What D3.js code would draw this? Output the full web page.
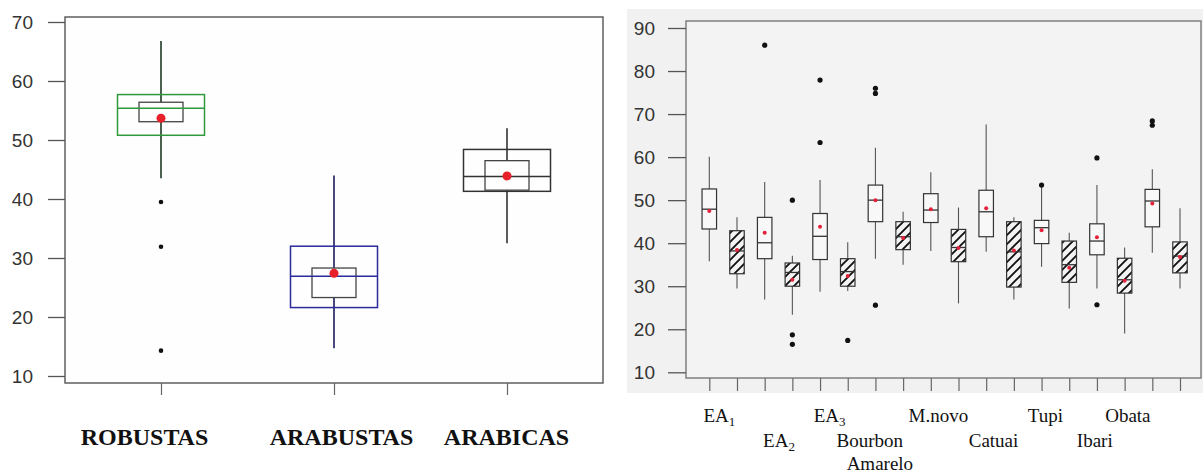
<!DOCTYPE html>
<html>
<head>
<meta charset="utf-8">
<script src="https://cdn.jsdelivr.net/npm/d3@7"></script>
<style>
  body { margin: 0; background: #fff; }
  text { font-family: "Liberation Sans", Arial, sans-serif; }
  .serif { font-family: "Liberation Serif", "Times New Roman", serif; }
</style>
</head>
<body>
<svg id="chart" width="1203" height="476"></svg>
<script>
// ---- left panel : species groups ----
const groups = ["ROBUSTAS", "ARABUSTAS", "ARABICAS"];
const gQ1 = [50.8, 21.6, 41.3];
const gMedian = [55.4, 26.9, 43.8];
const gQ3 = [57.7, 32.0, 48.4];
const gCiLow = [53.1, 23.3, 41.5];
const gCiHigh = [56.4, 28.3, 46.5];
const gMean = [53.7, 27.4, 43.9];
const gWhiskLow = [43.5, 14.7, 32.5];
const gWhiskHigh = [66.8, 44.0, 52.0];
const gOutliers = [[39.5, 31.9, 14.3], [], []];
const leftTicks = [10, 20, 30, 40, 50, 60, 70];

// ---- right panel : genotypes, two boxes each (plain / hatched) ----
const genotypes = ["EA1", "EA2", "EA3", "Bourbon Amarelo", "M.novo", "Catuai", "Tupi", "Ibari", "Obata"];
const treatments = ["plain", "hatched"];
const bQ3 = [52.6, 42.9, 46.0, 35.4, 46.9, 36.4, 53.5, 45.0, 51.5, 43.2, 52.3, 45.0, 45.3, 40.5, 44.5, 36.5, 52.5, 40.3];
const bQ1 = [43.3, 32.9, 36.4, 30.0, 36.2, 30.0, 45.0, 38.5, 44.8, 35.7, 41.5, 29.8, 39.9, 30.9, 37.3, 28.4, 43.8, 33.1];
const bMedian = [47.9, 38.2, 40.1, 33.2, 41.6, 33.4, 50.0, 41.5, 47.7, 39.0, 47.3, 38.0, 43.6, 35.0, 40.5, 31.5, 49.8, 37.0];
const bMean = [47.5, 38.4, 42.4, 31.5, 43.8, 32.4, 50.0, 41.2, 47.9, 38.9, 48.1, 38.3, 43.0, 34.3, 41.4, 31.3, 49.2, 36.8];
const bWhiskHigh = [60.1, 46.0, 54.2, 37.1, 54.7, 40.2, 62.2, 47.3, 56.5, 48.3, 67.6, 46.0, 53.1, 42.4, 53.5, 39.0, 57.2, 48.1];
const bWhiskLow = [35.8, 29.5, 26.9, 23.4, 28.7, 28.9, 36.4, 35.0, 38.2, 26.0, 38.0, 26.9, 34.5, 24.8, 29.5, 19.0, 37.8, 29.5];
const bOutliers = [[], [], [86.0], [50.0, 18.7, 16.5], [77.9, 63.4], [17.4], [76.0, 74.8, 25.6], [], [], [], [], [],
  [53.5], [], [59.8, 25.7], [], [68.4, 67.4], []];
const rightTicks = [10, 20, 30, 40, 50, 60, 70, 80, 90];

const svg = d3.select("#chart");

// ================= LEFT PANEL =================
const L = { left: 65, right: 603, top: 17, bottom: 383 };
const yL = d3.scaleLinear().domain([10, 70]).range([376, 22]);
const xL = d3.scalePoint().domain(groups).range([161, 507]);
const outerColor = ["#2f9a3c", "#2b2b9c", "#333"];
const whiskColor = ["#1f3a25", "#1c1c5e", "#333"];
const labelShift = [-16.5, 7.5, -0.5];

let left = svg.append("g");
left.append("rect")
  .attr("x", L.left).attr("y", L.top)
  .attr("width", L.right - L.left).attr("height", L.bottom - L.top)
  .attr("fill", "#fefefe").attr("stroke", "#555").attr("stroke-width", 1.4);

let ly = left.append("g")
  .attr("transform", "translate(" + L.left + ",0)")
  .call(d3.axisLeft(yL).tickValues(leftTicks).tickSize(17).tickPadding(15));
ly.select(".domain").remove();
ly.selectAll("line").attr("stroke", "#555").attr("stroke-width", 1.3);
ly.selectAll("text").attr("font-size", 19).attr("fill", "#333");

let lx = left.append("g")
  .attr("transform", "translate(0," + L.bottom + ")")
  .call(d3.axisBottom(xL).tickSize(12).tickFormat(""));
lx.select(".domain").remove();
lx.selectAll("line").attr("stroke", "#666").attr("stroke-width", 1.2);

groups.forEach(function (g, i) {
  let cx = xL(g);
  let gg = left.append("g");
  // whiskers
  gg.append("line").attr("x1", cx).attr("x2", cx)
    .attr("y1", yL(gWhiskHigh[i])).attr("y2", yL(gCiHigh[i]))
    .attr("stroke", whiskColor[i]).attr("stroke-width", 1.6);
  gg.append("line").attr("x1", cx).attr("x2", cx)
    .attr("y1", yL(gCiLow[i])).attr("y2", yL(gWhiskLow[i]))
    .attr("stroke", whiskColor[i]).attr("stroke-width", 1.6);
  // outer box (quartiles)
  gg.append("rect")
    .attr("x", cx - 43.5).attr("width", 87)
    .attr("y", yL(gQ3[i])).attr("height", yL(gQ1[i]) - yL(gQ3[i]))
    .attr("fill", "none").attr("stroke", outerColor[i]).attr("stroke-width", 1.5);
  // inner box
  gg.append("rect")
    .attr("x", cx - 22).attr("width", 44)
    .attr("y", yL(gCiHigh[i])).attr("height", yL(gCiLow[i]) - yL(gCiHigh[i]))
    .attr("fill", "none").attr("stroke", "#444").attr("stroke-width", 1.3);
  // median
  gg.append("line")
    .attr("x1", cx - 43.5).attr("x2", cx + 43.5)
    .attr("y1", yL(gMedian[i])).attr("y2", yL(gMedian[i]))
    .attr("stroke", outerColor[i]).attr("stroke-width", 1.5);
  // mean
  gg.append("circle").attr("cx", cx).attr("cy", yL(gMean[i])).attr("r", 4.5).attr("fill", "#e8202a");
  // outliers
  gg.selectAll("circle.out").data(gOutliers[i]).enter().append("circle")
    .attr("class", "out").attr("cx", cx).attr("cy", d => yL(d)).attr("r", 2.3).attr("fill", "#111");
  // category label
  left.append("text").attr("class", "serif")
    .attr("x", cx + labelShift[i]).attr("y", 445)
    .attr("text-anchor", "middle").attr("font-weight", "bold").attr("font-size", 24)
    .attr("fill", "#111").text(g);
});

// ================= RIGHT PANEL =================
const R = { left: 686, right: 1201, top: 21, bottom: 378 };
const boxIds = [];
genotypes.forEach(g => treatments.forEach(t => boxIds.push(g + "|" + t)));
const yR = d3.scaleLinear().domain([10, 90]).range([372.3, 28]);
const xR = d3.scalePoint().domain(boxIds).range([709.3, 1180]);

let defs = svg.append("defs");
defs.append("pattern")
  .attr("id", "hatch").attr("patternUnits", "userSpaceOnUse")
  .attr("width", 9).attr("height", 9)
  .append("path")
  .attr("d", "M0,9 L9,0 M-3,3 L3,-3 M6,12 L12,6")
  .attr("stroke", "#111").attr("stroke-width", 1.9);

let right = svg.append("g");
right.append("rect")
  .attr("x", 627).attr("y", 9).attr("width", 1203 - 627).attr("height", 393 - 9)
  .attr("fill", "#f1f1f1");
right.append("rect")
  .attr("x", R.left).attr("y", R.top)
  .attr("width", R.right - R.left).attr("height", R.bottom - R.top)
  .attr("fill", "#f3f3f3").attr("stroke", "#777").attr("stroke-width", 1.4);

let ry = right.append("g")
  .attr("transform", "translate(" + R.left + ",0)")
  .call(d3.axisLeft(yR).tickValues(rightTicks).tickSize(18).tickPadding(13));
ry.select(".domain").remove();
ry.selectAll("line").attr("stroke", "#555").attr("stroke-width", 1.3);
ry.selectAll("text").attr("font-size", 19).attr("fill", "#333");

let rx = right.append("g")
  .attr("transform", "translate(0," + R.bottom + ")")
  .call(d3.axisBottom(xR).tickSize(13).tickFormat(""));
rx.select(".domain").remove();
rx.selectAll("line").attr("stroke", "#666").attr("stroke-width", 1.2);

const bw = 14.5;
boxIds.forEach(function (id, i) {
  let cx = xR(id);
  let hatched = i % 2 === 1;
  let gg = right.append("g");
  gg.append("line").attr("x1", cx).attr("x2", cx)
    .attr("y1", yR(bWhiskHigh[i])).attr("y2", yR(bQ3[i]))
    .attr("stroke", "#555").attr("stroke-width", 1.1);
  gg.append("line").attr("x1", cx).attr("x2", cx)
    .attr("y1", yR(bQ1[i])).attr("y2", yR(bWhiskLow[i]))
    .attr("stroke", "#555").attr("stroke-width", 1.1);
  gg.append("rect")
    .attr("x", cx - bw / 2).attr("width", bw)
    .attr("y", yR(bQ3[i])).attr("height", yR(bQ1[i]) - yR(bQ3[i]))
    .attr("fill", hatched ? "url(#hatch)" : "#f8f8f8")
    .attr("stroke", "#333").attr("stroke-width", 1.2);
  gg.append("line")
    .attr("x1", cx - bw / 2).attr("x2", cx + bw / 2)
    .attr("y1", yR(bMedian[i])).attr("y2", yR(bMedian[i]))
    .attr("stroke", "#333").attr("stroke-width", 1.3);
  gg.append("circle").attr("cx", cx).attr("cy", yR(bMean[i])).attr("r", 2).attr("fill", "#e5213a");
  gg.selectAll("circle.out").data(bOutliers[i]).enter().append("circle")
    .attr("class", "out").attr("cx", cx).attr("cy", d => yR(d)).attr("r", 2.6).attr("fill", "#111");
});

// genotype labels, three staggered rows below the axis
const rowY = [422, 447, 470];
const labelRow = [0, 1, 0, 1, 0, 1, 0, 1, 0];
const labelDx = [-3.7, 0.5, -4.3, -19.4, -6.3, -6.5, -10, -16, -38.3];
genotypes.forEach(function (g, j) {
  let cx = (xR(g + "|plain") + xR(g + "|hatched")) / 2 + labelDx[j];
  let m = g.match(/^EA(\d)$/);
  if (m) {
    let t = right.append("text").attr("class", "serif")
      .attr("x", cx).attr("y", rowY[labelRow[j]])
      .attr("text-anchor", "middle").attr("font-size", 19).attr("fill", "#111");
    t.append("tspan").text("EA");
    t.append("tspan").attr("font-size", 13).attr("dy", 4).text(m[1]);
  } else if (g === "Bourbon Amarelo") {
    right.append("text").attr("class", "serif")
      .attr("x", cx).attr("y", rowY[1])
      .attr("text-anchor", "middle").attr("font-size", 19).attr("fill", "#111").text("Bourbon");
    right.append("text").attr("class", "serif")
      .attr("x", cx + 10).attr("y", rowY[2])
      .attr("text-anchor", "middle").attr("font-size", 19).attr("fill", "#111").text("Amarelo");
  } else {
    right.append("text").attr("class", "serif")
      .attr("x", cx).attr("y", rowY[labelRow[j]])
      .attr("text-anchor", "middle").attr("font-size", 19).attr("fill", "#111").text(g);
  }
});
</script>
</body>
</html>
